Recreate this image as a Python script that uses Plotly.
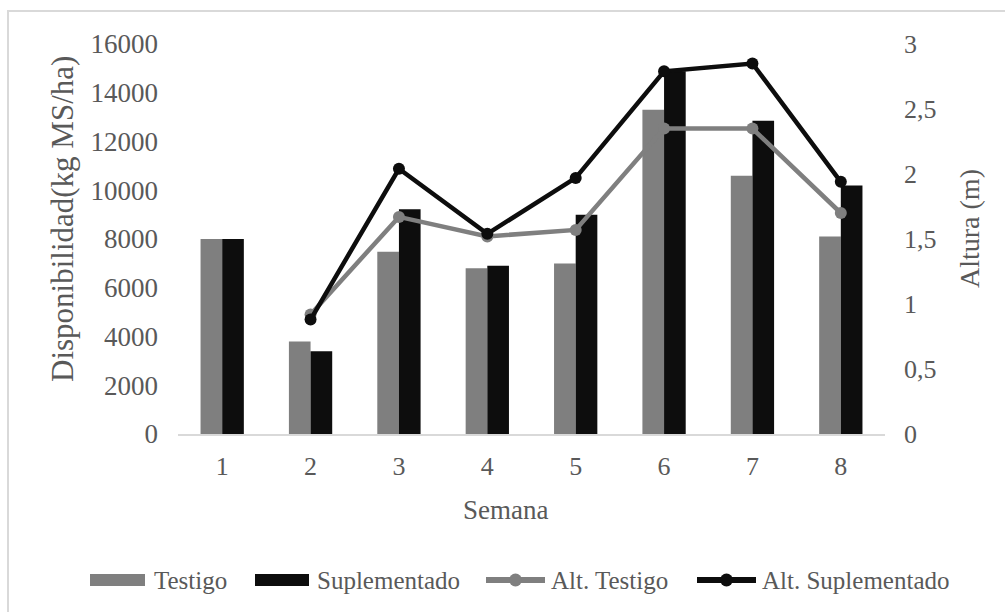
import plotly.graph_objects as go

# Weekly forage availability (kg MS/ha) and sward height (m)
semanas = ["1", "2", "3", "4", "5", "6", "7", "8"]
testigo = [8000, 3800, 7480, 6800, 7000, 13300, 10600, 8100]
suplementado = [8000, 3400, 9220, 6900, 9000, 14880, 12850, 10190]
alt_testigo = [None, 0.92, 1.67, 1.52, 1.57, 2.35, 2.35, 1.70]
alt_suplementado = [None, 0.88, 2.04, 1.54, 1.97, 2.79, 2.85, 1.94]

y1_ticks = [0, 2000, 4000, 6000, 8000, 10000, 12000, 14000, 16000]
y1_labels = ["0", "2000", "4000", "6000", "8000", "10000", "12000", "14000", "16000"]
y2_ticks = [0, 0.5, 1, 1.5, 2, 2.5, 3]
y2_labels = ["0", "0,5", "1", "1,5", "2", "2,5", "3"]

GRAY = "#7f7f7f"
BLACK = "#0d0d0d"
TEXT = "#595959"
FONT = "Liberation Serif"

W, H = 1005, 612
ML, MR, MT, MB = 178, 120, 44, 178
PW, PH = W - ML - MR, H - MT - MB


def px(x):
    """Horizontal pixel position -> paper fraction."""
    return (x - ML) / PW


def py(y):
    """Vertical pixel position -> paper fraction."""
    return (H - MB - y) / PH


fig = go.Figure()
fig.add_trace(go.Bar(x=semanas, y=testigo, name="Testigo", marker=dict(color=GRAY, line_width=0)))
fig.add_trace(go.Bar(x=semanas, y=suplementado, name="Suplementado", marker=dict(color=BLACK, line_width=0)))
fig.add_trace(go.Scatter(x=semanas, y=alt_testigo, name="Alt. Testigo", yaxis="y2",
                         mode="lines+markers", line=dict(color=GRAY, width=4.5),
                         marker=dict(color=GRAY, size=12)))
fig.add_trace(go.Scatter(x=semanas, y=alt_suplementado, name="Alt. Suplementado", yaxis="y2",
                         mode="lines+markers", line=dict(color=BLACK, width=4.5),
                         marker=dict(color=BLACK, size=12)))

# Legend drawn as shapes + text so the swatches can be wide bars / long line keys
legend_items = [
    ("Testigo", GRAY, "bar", 90, 145, 152),
    ("Suplementado", BLACK, "bar", 255, 309, 315),
    ("Alt. Testigo", GRAY, "line", 486, 545, 549),
    ("Alt. Suplementado", BLACK, "line", 697, 756, 760),
]
LEG_Y = 580
shapes = [
    dict(type="rect", xref="paper", yref="paper", x0=px(8), x1=1.4, y0=-1.0, y1=py(11),
         line=dict(color="#d9d9d9", width=2), fillcolor="rgba(0,0,0,0)", layer="below"),
]
annotations = []
for name, color, kind, s0, s1, tx in legend_items:
    if kind == "bar":
        shapes.append(dict(type="rect", xref="paper", yref="paper",
                           x0=px(s0), x1=px(s1), y0=py(LEG_Y + 6), y1=py(LEG_Y - 6),
                           fillcolor=color, line_width=0))
    else:
        shapes.append(dict(type="line", xref="paper", yref="paper",
                           x0=px(s0), x1=px(s1), y0=py(LEG_Y), y1=py(LEG_Y),
                           line=dict(color=color, width=6)))
        cx = (s0 + s1) / 2
        shapes.append(dict(type="circle", xref="paper", yref="paper",
                           x0=px(cx - 6.5), x1=px(cx + 6.5), y0=py(LEG_Y + 6.5), y1=py(LEG_Y - 6.5),
                           fillcolor=color, line_width=0))
    annotations.append(dict(text=name, xref="paper", yref="paper", x=px(tx), y=py(LEG_Y),
                            xanchor="left", yanchor="middle", showarrow=False,
                            font=dict(family=FONT, size=25, color=TEXT)))

annotations += [
    dict(text="Disponibilidad(kg MS/ha)", xref="paper", yref="paper", x=px(63), y=py(219),
         textangle=-90, showarrow=False, xanchor="center", yanchor="middle",
         font=dict(family=FONT, size=31, color=TEXT)),
    dict(text="Altura (m)", xref="paper", yref="paper", x=px(969), y=py(229),
         textangle=-90, showarrow=False, xanchor="center", yanchor="middle",
         font=dict(family=FONT, size=28, color=TEXT)),
    dict(text="Semana", xref="paper", yref="paper", x=px(505), y=py(510),
         showarrow=False, xanchor="center", yanchor="middle",
         font=dict(family=FONT, size=27, color=TEXT)),
]

fig.update_layout(
    width=W, height=H,
    margin=dict(l=ML, r=MR, t=MT, b=MB),
    paper_bgcolor="white", plot_bgcolor="white",
    font=dict(family=FONT, size=26, color=TEXT),
    barmode="group", bargap=0.51, bargroupgap=0,
    showlegend=False,
    xaxis=dict(type="category", showgrid=False, showline=True, linecolor="#d9d9d9",
               linewidth=2, ticks="", ticklabelstandoff=8,
               tickfont=dict(family=FONT, size=26, color=TEXT)),
    yaxis=dict(range=[0, 16000], tickvals=y1_ticks, ticktext=y1_labels, showgrid=False,
               zeroline=False, showline=False, ticks="", ticklabelstandoff=19,
               tickfont=dict(family=FONT, size=27, color=TEXT)),
    yaxis2=dict(range=[0, 3], tickvals=y2_ticks, ticktext=y2_labels, overlaying="y",
                side="right", showgrid=False, zeroline=False, showline=False, ticks="",
                ticklabelstandoff=18, tickfont=dict(family=FONT, size=26, color=TEXT)),
    annotations=annotations,
    shapes=shapes,
)

fig.write_html("out.html")
